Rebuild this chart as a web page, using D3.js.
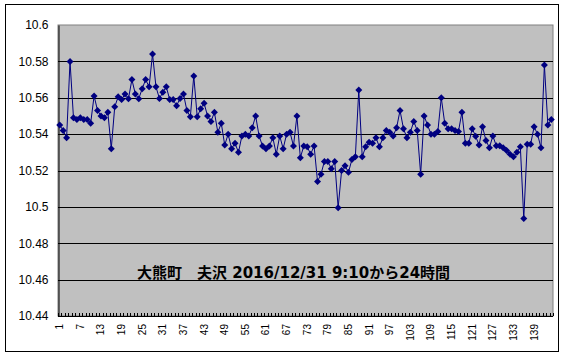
<!DOCTYPE html>
<html><head><meta charset="utf-8">
<script src="https://cdn.jsdelivr.net/npm/d3@7"></script>
<style>
html,body{margin:0;padding:0;background:#fff;}
svg{display:block;}
</style>
</head><body>
<svg id="chart" width="569" height="359"></svg>
<script>
const values = [
10.545,10.542,10.538,10.580,10.549,10.548,10.549,10.548,10.548,10.546,
10.561,10.553,10.550,10.549,10.552,10.532,10.555,10.5605,10.559,10.562,
10.5595,10.570,10.562,10.5595,10.565,10.570,10.566,10.584,10.566,10.5596,
10.563,10.566,10.559,10.559,10.5556,10.5596,10.562,10.553,10.5495,10.572,
10.5495,10.554,10.557,10.550,10.547,10.552,10.541,10.546,10.534,10.540,
10.532,10.535,10.530,10.539,10.540,10.539,10.5435,10.550,10.539,10.5335,
10.532,10.5335,10.538,10.529,10.539,10.532,10.540,10.541,10.5335,10.550,
10.527,10.5335,10.533,10.529,10.5335,10.514,10.518,10.525,10.525,10.521,
10.525,10.4995,10.520,10.5226,10.519,10.526,10.5275,10.5643,10.5275,10.533,
10.5356,10.535,10.538,10.533,10.538,10.542,10.541,10.539,10.5435,10.553,
10.543,10.538,10.541,10.547,10.542,10.518,10.550,10.545,10.540,10.540,
10.5415,10.560,10.546,10.543,10.543,10.542,10.5415,10.552,10.535,10.535,
10.543,10.5388,10.534,10.544,10.5365,10.5325,10.539,10.5336,10.5336,10.5325,
10.531,10.529,10.5275,10.530,10.533,10.4936,10.5345,10.5345,10.544,10.540,
10.5325,10.578,10.545,10.548];
const categories = values.map((v, i) => i + 1);
const xTickLabels = categories.filter((c, i) => i % 6 === 0);
const yTicks = [10.44, 10.46, 10.48, 10.5, 10.52, 10.54, 10.56, 10.58, 10.6];
const yTickLabels = ["10.44","10.46","10.48","10.5","10.52","10.54","10.56","10.58","10.6"];
const titleText = "大熊町\u3000夫沢 2016/12/31 9:10から24時間";

const svg = d3.select("#chart");
const L = 58, R = 553, T = 25, B = 316;

// outer chart border
svg.append("rect").attr("x", 5.5).attr("y", 4.5).attr("width", 553).attr("height", 347)
  .attr("fill", "#fff").attr("stroke", "#000").attr("stroke-width", 1);

const x = d3.scaleBand().domain(categories).range([L, R]).padding(0);
const y = d3.scaleLinear().domain([10.44, 10.6]).range([B, T]);
const cx = c => x(c) + x.bandwidth() / 2;

// plot background
svg.append("rect").attr("x", L).attr("y", T).attr("width", R - L).attr("height", B - T)
  .attr("fill", "#c0c0c0").attr("stroke", "#808080").attr("stroke-width", 1);

// gridlines
svg.append("g").selectAll("line").data(yTicks.slice(1, -1)).join("line")
  .attr("x1", L).attr("x2", R)
  .attr("y1", d => Math.round(y(d)) + 0.5).attr("y2", d => Math.round(y(d)) + 0.5)
  .attr("stroke", "#000").attr("stroke-width", 1);

// y axis
const yAxis = d3.axisLeft(y).tickValues(yTicks).tickSize(0)
  .tickFormat((d, i) => yTickLabels[i]);
const gy = svg.append("g").attr("transform", `translate(${L + 0.5},0)`).call(yAxis);
gy.select(".domain").attr("stroke", "#000");
gy.selectAll("text").attr("font-family", "Liberation Sans, Arial, sans-serif")
  .attr("font-size", 12).attr("fill", "#000").attr("x", -10);

// x axis: boundary ticks
const bounds = categories.map(c => x(c)).concat([R]);
svg.append("g").selectAll("line").data(bounds).join("line")
  .attr("x1", d => Math.round(d) + 0.5).attr("x2", d => Math.round(d) + 0.5)
  .attr("y1", B).attr("y2", B - 3)
  .attr("stroke", "#000").attr("stroke-width", 1);
svg.append("line").attr("x1", L).attr("x2", R).attr("y1", B + 0.5).attr("y2", B + 0.5)
  .attr("stroke", "#000").attr("stroke-width", 1);
svg.append("g").selectAll("text").data(xTickLabels).join("text")
  .attr("transform", d => `translate(${cx(d) + 3.5},${B + 8}) rotate(-90)`)
  .attr("text-anchor", "end")
  .attr("font-family", "Liberation Sans, Arial, sans-serif")
  .attr("font-size", 10).attr("fill", "#000")
  .text(d => d);

// line
const line = d3.line().x((d, i) => cx(categories[i])).y(d => y(d));
svg.append("path").datum(values).attr("d", line)
  .attr("fill", "none").attr("stroke", "#000080").attr("stroke-width", 1);

// markers
svg.append("g").selectAll("path").data(values).join("path")
  .attr("transform", (d, i) => `translate(${cx(categories[i])},${y(d)})`)
  .attr("d", "M0,-3.5L3.5,0L0,3.5L-3.5,0Z")
  .attr("fill", "#000080");

// title text inside plot
svg.append("text").attr("x", 137).attr("y", 278)
  .attr("font-family", "DejaVu Sans, 'Noto Sans CJK JP', sans-serif")
  .attr("font-weight", "bold").attr("font-size", 15).attr("fill", "#000")
  .text(titleText);
</script>
</body></html>
